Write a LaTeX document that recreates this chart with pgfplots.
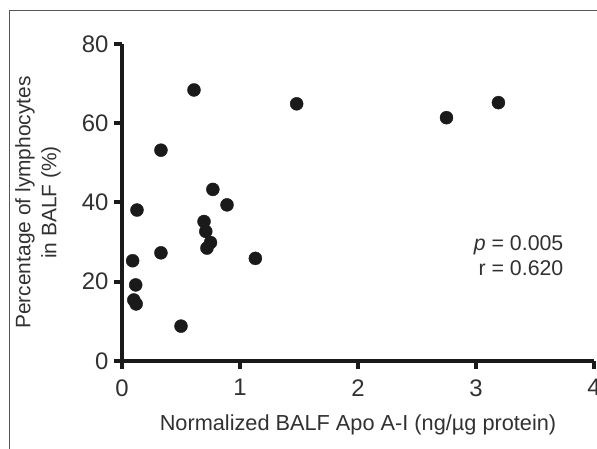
\documentclass[border=0pt]{standalone}
\usepackage{fontspec}
\setmainfont{Liberation Sans}
\usepackage{pgfplots}
\pgfplotsset{compat=1.18}
\definecolor{ink}{HTML}{1A1A1A}
\definecolor{framegray}{HTML}{555555}

\begin{document}
\begin{tikzpicture}[x=1bp,y=1bp]
  \useasboundingbox (-122,-88) rectangle (475,361);
  \draw[framegray, line width=1bp] (-112,-88) -- (-112,350) -- (475,350);
  \begin{axis}[
      at={(0,0)}, anchor=south west,
      scale only axis,
      width=472bp, height=317bp,
      xmin=0, xmax=4, ymin=0, ymax=80,
      axis x line=bottom, axis y line=left,
      axis line style={ink, line width=4bp, -},
      xtick={0,1,2,3,4}, ytick={0,20,40,60,80},
      tick align=outside,
      major tick length=8bp,
      tick style={ink, line width=4bp},
      /pgf/number format/assume math mode=true,
      ticklabel style={font=\fontsize{24}{28}\selectfont, text=ink!90},
      xticklabel style={yshift=-7bp},
      yticklabel style={xshift=-2bp},
      xlabel={Normalized BALF Apo A-I (ng/µg protein)},
      ylabel={Percentage of lymphocytes\\in BALF (\%)},
      every axis x label/.style={at={(axis description cs:0.5,-0.2208)}, anchor=base,
        font=\fontsize{21.8}{26}\selectfont, text=ink!90},
      every axis y label/.style={at={(axis description cs:-0.178,0.5)}, rotate=90, anchor=center,
        align=center, font=\fontsize{21}{26}\selectfont, text=ink!90},
      clip=false,
    ]
    \addplot[only marks, mark=*, mark size=6.5bp, mark options={fill=ink, draw=ink}] coordinates {
      (0.61,68.4) (0.33,53.2) (0.77,43.3) (0.89,39.4) (0.127,38.1)
      (0.695,35.2) (0.71,32.7) (0.75,29.9) (0.72,28.5) (0.33,27.3)
      (0.09,25.3) (1.13,25.9) (0.116,19.2) (0.10,15.4) (0.12,14.4)
      (0.50,8.8) (1.48,64.9) (2.75,61.4) (3.19,65.2)
    };
    \node[anchor=base east, font=\fontsize{21.4}{25}\selectfont, text=ink!90] at (axis cs:3.77,27.8) {\textit{p} = 0.005};
    \node[anchor=base east, font=\fontsize{21.4}{25}\selectfont, text=ink!90] at (axis cs:3.77,21.7) {r = 0.620};
  \end{axis}
\end{tikzpicture}
\end{document}
